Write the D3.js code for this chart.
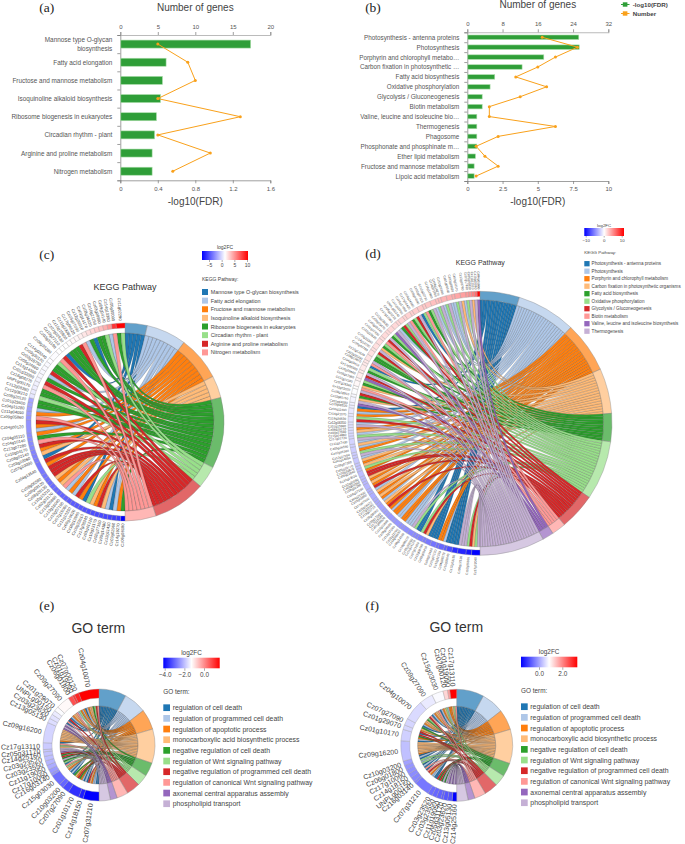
<!DOCTYPE html>
<html><head><meta charset="utf-8">
<script src="https://cdn.jsdelivr.net/npm/d3@7"></script>
<style>html,body{margin:0;padding:0;background:#fff}svg{display:block}text{font-family:"Liberation Sans",Arial,sans-serif}</style>
</head><body><svg id="c" width="685" height="844"></svg>
<script>
// ---------- panel (a) ----------
const aCats = ["Mannose type O-glycan|biosynthesis","Fatty acid elongation","Fructose and mannose metabolism","Isoquinoline alkaloid biosynthesis","Ribosome biogenesis in eukaryotes","Circadian rhythm - plant","Arginine and proline metabolism","Nitrogen metabolism"];
const aFdr = [1.385,0.483,0.444,0.423,0.38,0.36,0.334,0.334];
const aNum = [5,9,10,5,16,5,12,7];
const aFdrTicks = [0,0.4,0.8,1.2,1.6];
const aNumTicks = [0,5,10,15,20];
// ---------- panel (b) ----------
const bCats = ["Photosynthesis - antenna proteins","Photosynthesis","Porphyrin and chlorophyll metabo…","Carbon fixation in photosynthetic …","Fatty acid biosynthesis","Oxidative phosphorylation","Glycolysis / Gluconeogenesis","Biotin metabolism","Valine, leucine and isoleucine bio…","Thermogenesis","Phagosome","Phosphonate and phosphinate m…","Ether lipid metabolism","Fructose and mannose metabolism","Lipoic acid metabolism"];
const bFdr = [7.87,7.9,5.39,3.85,1.91,1.58,1.02,1.02,0.64,0.64,0.64,0.64,0.54,0.45,0.45];
const bNum = [17,25,20,16,11,18,12,5,5,20,7,2,4,7,2];
const bFdrTicks = [0,2.5,5,7.5,10];
const bFdrLabels = ["0","2.5","5","7.5","10"];
const bNumTicks = [0,8,16,24,32];
// ---------- panel (c) ----------
const cTerms = ["Mannose type O-glycan biosynthesis","Fatty acid elongation","Fructose and mannose metabolism","Isoquinoline alkaloid biosynthesis","Ribosome biogenesis in eukaryotes","Circadian rhythm - plant","Arginine and proline metabolism","Nitrogen metabolism"];
const cSeq = [4,2,1,0,1,3,6,2,3,5,0,2,6,1,2,1,7,3,2,3,6,6,6,2,6,0,3,2,6,7,4,2,1,2,6,
              7,2,1,4,4,5,4,4,7,6,4,1,6,4,4,5,7,6,0,4,4,4,6,7,1,4,0,4,4,5,1,7,4,5];
const cWidths = [1,1,1,1,1,1,1,1,1,1,1,1,1,1,1,1,1,1,1,1,1,1,3,1,1,1,1,1,1,1,3,
                 1,1,1,1,1,1,1,1,1,1,1,1,1,1,1,2,1,1,1,1,1,1,1,1,1,1,1,1,1,1,1,2];
const cGenes = ["Cz06g08180","Cz14g19270","Cz03g02960","Cz12g11430","Cz05g14180","Cz02g27150","Cz10g23170","Cz01g41210","Cz17g08340","Cz09g22610",
"Cz16g13980","Cz08g19020","Cz11g10230","Cz07g15060","Cz15g07190","Cz13g16040","Cz12g20860","Cz02g33170","Cz10g15210","Cz06g28130",
"Cz08g09120","Cz08g06580","Cz04g13540","Cz07g10090","Cz03g10060","Cz08g02140","Cz10g04170","Cz13g07280","Cz04g10140","Cz04g05110",
"Cz04g00120","Cz09g05860","Cz11g04050","Cz04g15280","Cz01g25600","Cz08g20120","Cz12g08210","Cz12g08280","UNPLg00170","Cz16g06270",
"Cz01g32090","Cz13g14300","Cz05g24660","Cz02g18750","Cz09g30120","Cz14g03240","Cz06g35280","Cz03g31190","Cz10g27110","Cz07g02430",
"Cz15g19800","Cz11g23060","Cz17g04520","Cz05g07090","Cz12g29310","Cz01g14170","Cz08g34020","Cz16g21150","Cz03g08990","Cz09g04140",
"Cz14g10380","Cz05g00090","Cz11g02290"];
const cFC = [-7.8,-5.6,-5.5,-5.4,-5.3,-5.2,-5.1,-5,-4.9,-4.8,-4.7,-4.6,-4.5,-4.4,-4.3,-4.2,-4.1,-4,-3.9,-3.8,-3.7,-3.6,
-3.5,-3.3,-3.2,-3.1,-3,-2.9,-2.8,-2.7,-2.6,-2.4,-2.2,-2.1,-2,-1.9,
0.4,0.6,0.7,0.8,0.9,1,1,1.1,1.1,1.2,1.2,1.3,1.3,1.3,1.4,1.5,1.6,
1.9,2.2,2.5,2.8,3.2,3.6,4.2,5,8.5,10.4];
const cFCDomain = [-7.8,1.3,10.4];
const cFCTicks = [-5,0,5,10];
// ---------- panel (d) ----------
const dTerms = ["Photosynthesis - antenna proteins","Photosynthesis","Porphyrin and chlorophyll metabolism","Carbon fixation in photosynthetic organisms","Fatty acid biosynthesis","Oxidative phosphorylation","Glycolysis / Gluconeogenesis","Biotin metabolism","Valine, leucine and isoleucine biosynthesis","Thermogenesis"];
const dSeq = [9,5,3,6,5,9,9,9,
0,0,0,0,0,1,2,2,0,0,0,0,3,6,5,0,0,5,9,
1,1,1,2,2,1,1,2,2,1,2,6,2,3,1,2,3,2,3,1,6,2,
3,2,3,6,6,2,5,3,2,3,1,9,5,2,1,3,1,9,5,1,3,2,9,
1,6,5,2,1,2,0,8,9,3,
4,6,9,7,3,4,5,8,6,9,4,5,0,7,9,
4,4,5,6,9,3,4,5,7,6,9,4,5,8,9,1,
4,6,5,9,7,4,5,6,9,0,5,7,4,5,9,1,5,9,1,5,9,1,1,5,9,3,1,5,9,3,9,8];
const dWidths = [3,2,3,2,2,1,2,1,2,2,1,2,1,1,2,2,1,1,2,1,2,1,1,1,2,1,1,1,2,1,1,2,1,1,1,2,1,1,1,2,1,1,2,1,2,1,1,1,1,1,
1,2,1,2,1,1,2,1,2,1,2,1,2,1,2,1,1,2,2,1,2,2,1,2,1,2,2,1,2,1,2,1,2,2,1,2,2,1,1,2,2,1,2,2,1,1,1,1,1];
const dGenes = ["Cz17g12060","Cz02g20910","Cz06g17530","Cz12g03180","Cz10g26040","Cz04g08270","Cz15g11330","Cz01g37120","Cz09g12480","Cz03g26410",
"Cz13g08790","Cz07g21050","Cz11g14120","Cz05g30260","Cz16g09370","Cz08g24510","Cz14g06630","Cz02g11790","Cz12g17240","Cz06g04090",
"Cz10g11860","Cz01g06520","Cz17g15180","Cz03g17340","Cz09g28060","Cz13g20710","Cz07g33090","Cz05g18470","Cz11g07620","Cz15g02850",
"Cz04g21930","Cz16g17150","Cz08g11280","Cz02g04360","Cz12g25090","Cz14g13520","Cz06g22640","Cz10g32870","Cz01g19770","Cz09g07200",
"Cz03g14050","Cz13g12160","Cz07g06380","Cz05g26590","Cz11g17430","Cz17g01720","Cz15g14860","Cz04g17040","Cz08g29210","Cz02g15980",
"Cz12g06350","Cz16g24620","Cz14g21070","Cz06g11490","Cz10g08530","Cz01g44280","Cz03g20760","Cz09g18910","Cz13g03020","Cz07g28340",
"Cz11g21180","Cz05g12560","Cz15g09640","Cz17g06990","Cz04g03410","Cz08g15870","Cz02g30250","Cz12g14620","Cz16g02780","Cz14g16090",
"Cz06g31360","Cz10g19520","Cz01g27830","Cz03g05140","Cz09g25470","Cz13g18630","Cz07g12980","Cz05g21210","UNPLg00240","Cz11g03750",
"Cz15g17090","Cz17g10420","Cz04g24580","Cz08g04690","Cz02g07310","Cz12g22730","Cz16g11860","Cz14g01950","Cz06g14270","Cz10g29380",
"Cz01g09540","Cz03g28620","Cz09g02170","Cz13g10760","Cz07g17490","Cz05g03830","Cz11g12510","Cz15g05260","Cz04g01090"];
const dFC = [-10.8,-9.8,-9.2,-8.8,-7.5,-6.8,-6.4,-6,-5.8,-5.6,-5.4,-5.2,-5,-4.9,-4.8,-4.6,-4.5,-4.4,-4.3,-4.2,-4.1,-4,-3.9,-3.8,-3.7,
-3.6,-3.5,-3.4,-3.3,-3.2,-3.1,-3,-2.9,-2.8,-2.7,-2.6,-2.5,-2.4,-2.3,-2.2,-2.1,-2,-1.9,-1.8,-1.7,-1.6,-1.5,-1.4,-1.3,-1.2,
-1.1,-1,-.9,-.8,-.6,-.5,-.3,-.1,.1,.3,.5,.7,.9,1,1.1,1.2,1.3,1.4,1.5,1.6,1.6,1.7,1.7,1.8,1.8,1.9,1.9,2,2,2.1,
2.2,2.3,2.4,2.5,2.6,2.7,2.9,3,3.2,3.4,3.6,3.8,4,4.3,4.6,5,5.6,6.5,11.2];
const dFCDomain = [-10.8,0.2,11.2];
const dFCTicks = [-10,0,10];
// ---------- panels (e) and (f) ----------
const goTerms = ["regulation of cell death","regulation of programmed cell death","regulation of apoptotic process","monocarboxylic acid biosynthetic process","negative regulation of cell death","regulation of Wnt signaling pathway","negative regulation of programmed cell death","regulation of canonical Wnt signaling pathway","axonemal central apparatus assembly","phospholipid transport"];
const eGenes = ["Cz07g31210","Cz14g18150","Cz01g10170","Cz07g27090","Cz10g03200","Cz15g03030","Cz16g03140","Cz17g10060","Cz11g19050","Cz03g23550","Cz03g23520","Cz14g25160","Cz05g31170","Cz17g13110","Cz09g16200","Cz13g05130","Cz03g23620","UNPLg00150","Cz01g29070","Cz09g27090","Cz06g01800","Cz01g19090","Cz07g00120","Cz04g10070"];
const eFC = [-4.14,-3.8,-3.6,-3.3,-3.0,-2.9,-2.5,-2.4,-2.2,-2.1,-2.0,-1.95,-1.9,-1.85,-1.75,-1.65,-1.6,-1.5,-1.3,-1.2,0.7,1.0,1.2,1.6];
const eLinks = [[0,0,1,1,2,3,6],[0,1],[0,1,2,4,6],[2,3,4],[0,1],[0,1,2,3,5],[7],[0,5],[4,9],[4,6],[4,6],[8,9],[9],[3,5,7],[0,2,3,3,3,3,3,3,3],[8,9],[8,9],[0,7],[0,6],[0,1,2,3,3,7],[1,5],[2],[1,2],[0,1,2,3,3,4,5,6,7]];
const eFCDomain = [-4.14,-1.27,1.6];
const eFCTicks = [-4,-2,0];
const fGenes = ["Cz14g25160","Cz13g05130","Cz03g23620","Cz05g31170","Cz11g19050","Cz03g23550","Cz03g23520","Cz07g31210","Cz16g03140","UNPLg00150","Cz14g18150","Cz17g10060","Cz06g01800","Cz10g03200","Cz09g16200","Cz01g10170","Cz01g29070","Cz07g27090","Cz04g10070","Cz09g27090","Cz15g03030","Cz07g00120","Cz01g19090","Cz17g13110"];
const fFC = [-1.54,-0.75,-0.7,-0.65,-0.6,-0.55,-0.5,-0.4,-0.3,-0.25,-0.2,-0.15,-0.1,0,0.3,0.45,0.5,0.5,0.55,0.7,0.85,1.3,1.8,3.3];
const fLinks = [[8,9],[8,9],[8,9],[9],[4,9],[4,6],[4,6],[0,0,1,1,2,3,6],[7],[0,7],[0,1],[0,5],[1,5],[0,1],[0,2,3,3,3,3,3,3,3],[0,1,2,4,6],[0,6],[2,3,4],[0,1,2,3,3,4,5,6,7],[0,1,2,3,3,7],[0,1,2,3,5],[1,2],[2],[3,5,7]];
const fFCDomain = [-1.54,0.9,3.3];
const fFCTicks = [0,2];
const palette = ["#1f77b4","#aec7e8","#ff7f0e","#ffbb78","#2ca02c","#98df8a","#d62728","#ff9896","#9467bd","#c5b0d5"];

const svg = d3.select("#c");
const defs = svg.append("defs");
const TXT = "#444";

function label(x,y,s,size,opt={}){
  return svg.append("text").attr("x",x).attr("y",y).attr("dominant-baseline","central")
    .attr("text-anchor",opt.anchor||"middle").attr("font-size",size)
    .attr("fill",opt.fill||TXT).attr("font-weight",opt.weight||"normal")
    .style("font-family",opt.family||null).text(s);
}
[["(a)",46.7,7],["(b)",373,7],["(c)",46.7,254],["(d)",373,253],["(e)",46.7,605],["(f)",372.3,605]].forEach(d=>
  label(d[1],d[2],d[0],13.5,{family:'"Liberation Serif",serif',fill:"#222"}));

function barPanel(o){
  const g = svg.append("g");
  const x = d3.scaleLinear().domain(o.fdrDom).range([o.x0,o.x1]);
  const xN = d3.scaleLinear().domain(o.numDom).range([o.x0,o.x1]);
  const n = o.cats.length;
  const y = d3.scaleBand().domain(d3.range(n)).range([o.top,o.bottom]);
  const idx = d3.scaleLinear().domain([0,n]).range([o.top,o.bottom]);
  const ax = g.append("g").attr("transform",`translate(0,${o.bottom})`).call(d3.axisBottom(x).tickValues(o.fdrTicks).tickSize(3).tickPadding(3).tickFormat((d,i)=>o.fdrLabels?o.fdrLabels[i]:String(d)));
  const at = g.append("g").attr("transform",`translate(0,${o.top})`).call(d3.axisTop(xN).tickValues(o.numTicks).tickSize(3).tickPadding(3));
  const al = g.append("g").attr("transform",`translate(${o.x0},0)`).call(d3.axisLeft(idx).tickValues(d3.range(n+1)).tickSize(3).tickFormat(""));
  [ax,at,al].forEach(a=>{a.selectAll("text").attr("font-size",6).attr("fill","#555").style("font-family",null);a.selectAll("path,line").attr("stroke","#777").attr("stroke-width",0.7);});
  at.selectAll("path").attr("stroke","#bbb").attr("stroke-width",1.1);
  g.selectAll("rect.b").data(o.fdr).join("rect").attr("class","b")
    .attr("x",o.x0+0.5).attr("y",(d,i)=>y(i)+y.bandwidth()/2-o.barH/2)
    .attr("width",d=>x(d)-o.x0).attr("height",o.barH)
    .attr("fill","#2f9e38").attr("stroke","#a9dca8").attr("stroke-width",0.6);
  g.append("path").datum(o.num).attr("fill","none").attr("stroke","#f9a11b").attr("stroke-width",1)
    .attr("d",d3.line().x(d=>xN(d)).y((d,i)=>y(i)+y.bandwidth()/2));
  g.selectAll("circle").data(o.num).join("circle").attr("cx",d=>xN(d)).attr("cy",(d,i)=>y(i)+y.bandwidth()/2).attr("r",1.5).attr("fill","#f9a11b");
  o.cats.forEach((c,i)=>{
    const parts=c.split("|"), cy=y(i)+y.bandwidth()/2;
    parts.forEach((p,k)=>label(o.x0-8,cy+(k-(parts.length-1)/2)*9,p,o.catSize,{anchor:"end",fill:"#555"}));
  });
  label((o.x0+o.x1)/2,o.titleY,"Number of genes",10);
  label((o.x0+o.x1)/2,201,"-log10(FDR)",10);
}
barPanel({cats:aCats,fdr:aFdr,num:aNum,fdrDom:[0,1.6],numDom:[0,20],fdrTicks:aFdrTicks,numTicks:aNumTicks,x0:120.3,x1:270.3,top:35,bottom:180.3,barH:8,catSize:6.4,titleY:7});
barPanel({cats:bCats,fdr:bFdr,num:bNum,fdrDom:[0,10],numDom:[0,32],fdrTicks:bFdrTicks,fdrLabels:bFdrLabels,numTicks:bNumTicks,x0:467.3,x1:608.3,top:32.3,bottom:181,barH:4.5,catSize:6.3,titleY:4});
[["-log10(FDR)","#2f9e38",4.5],["Number","#f9a11b",13.5]].forEach(d=>{
  svg.append("line").attr("x1",621).attr("x2",629.5).attr("y1",d[2]).attr("y2",d[2]).attr("stroke",d[1]).attr("stroke-width",1);
  svg.append("rect").attr("x",622.8).attr("y",d[2]-2.2).attr("width",4.6).attr("height",4.4).attr("fill",d[1]);
  label(632.7,d[2],d[0],6.2,{anchor:"start",weight:"bold"});
});

let gid=0;
function chord(o){
  const col = d3.scaleLinear().domain(o.fcDom).range(["#0000ff","#ffffff","#ff0000"]);
  const total = d3.sum(o.links,l=>l.length);
  const unit = Math.PI/total;
  const g = svg.append("g").attr("transform",`translate(${o.cx},${o.cy})`);
  // gene side: runs clockwise from six o'clock to twelve o'clock
  let pos = 0; const units=[]; const cells=[];
  o.links.forEach((terms,gi)=>{
    const a0 = Math.PI+pos*unit;
    terms.forEach(t=>{units.push({t,start:Math.PI+pos*unit,end:Math.PI+(pos+1)*unit,gi});pos++;});
    cells.push({gi,start:a0,end:Math.PI+pos*unit});
  });
  // term side: runs clockwise from twelve o'clock to six o'clock, latest gene first
  let tp = 0; const termArcs=[];
  o.terms.forEach((name,t)=>{
    const mine = units.filter(u=>u.t===t).sort((a,b)=>b.start-a.start);
    const a0=tp*unit;
    mine.forEach(u=>{u.ts=tp*unit;u.te=(tp+1)*unit;tp++;});
    termArcs.push({t,start:a0,end:tp*unit});
  });
  const ribbon = d3.ribbon().radius(o.rRib);
  g.selectAll("path.r").data(units.slice().sort((a,b)=>a.t-b.t)).join("path").attr("class","r")
    .attr("d",u=>ribbon({source:{startAngle:u.ts,endAngle:u.te},target:{startAngle:u.start,endAngle:u.end}}))
    .attr("fill",u=>palette[u.t]).attr("stroke","#333").attr("stroke-width",o.sw).attr("stroke-opacity",0.75);
  const arc = d3.arc();
  g.selectAll("path.t").data(termArcs).join("path").attr("class","t")
    .attr("d",d=>arc({innerRadius:o.rRib,outerRadius:o.rOut,startAngle:d.start,endAngle:d.end}))
    .attr("fill",d=>palette[d.t]).attr("fill-opacity",0.7).attr("stroke","#888").attr("stroke-width",0.4);
  g.selectAll("path.g").data(cells).join("path").attr("class","g")
    .attr("d",d=>arc({innerRadius:o.rGene,outerRadius:o.rOut,startAngle:d.start,endAngle:d.end}))
    .attr("fill",d=>col(o.fc[d.gi])).attr("stroke","#999").attr("stroke-width",0.35);
  g.selectAll("text").data(cells).join("text")
    .attr("text-anchor","end").attr("dominant-baseline","central")
    .attr("font-size",o.labelSize).attr("fill","#444")
    .attr("transform",d=>{const a=(d.start+d.end)/2, r=o.rOut+o.labelGap;
      return `translate(${r*Math.sin(a)},${-r*Math.cos(a)}) rotate(${a*180/Math.PI-270})`;})
    .text(d=>o.genes[d.gi]);
  // title
  label(o.cx+o.titleDx,o.titleY,o.title,o.titleSize,{fill:"#333"});
  // colour bar
  const id="grad"+(gid++), L=o.legend;
  const gr=defs.append("linearGradient").attr("id",id);
  [["0%","#0000ff"],["50%","#ffffff"],["100%","#ff0000"]].forEach(s=>gr.append("stop").attr("offset",s[0]).attr("stop-color",s[1]));
  svg.append("rect").attr("x",L.x).attr("y",L.barY).attr("width",L.barW).attr("height",L.barH).attr("fill",`url(#${id})`);
  const cs=d3.scaleLinear().domain([L.tickA[0],L.tickA[1]]).range([L.tickX[0],L.tickX[1]]);
  const ag=svg.append("g").attr("transform",`translate(0,${L.barY+L.barH})`).call(d3.axisBottom(cs).tickValues(o.ticks).tickSize(L.tickLen).tickPadding(1.5));
  ag.select("path").remove();
  ag.selectAll("line").attr("stroke","#333").attr("stroke-width",0.4);
  ag.selectAll("text").attr("font-size",L.small).attr("fill","#444").style("font-family",null);
  label(L.x+L.barW/2,L.barY-L.titleGap,"log2FC",L.small);
  label(L.x,L.headY,o.head,L.small,{anchor:"start"});
  o.terms.forEach((t,i)=>{
    const y=L.rowY+i*L.rowStep;
    svg.append("rect").attr("x",L.x).attr("y",y-L.sw/2).attr("width",L.sw).attr("height",L.sw).attr("fill",palette[i]);
    label(L.x+L.sw+L.textGap,y,t,L.text,{anchor:"start"});
  });
}
function group(seq,widths){let p=0;return widths.map(w=>{const r=seq.slice(p,p+w);p+=w;return r;});}

chord({cx:125,cy:422,rRib:89,rGene:94,rOut:99,labelSize:4.1,labelGap:2.5,sw:0.3,
  terms:cTerms,genes:cGenes,fc:cFC,fcDom:cFCDomain,links:group(cSeq,cWidths),ticks:cFCTicks,
  title:"KEGG Pathway",titleDx:0,titleY:287,titleSize:9,head:"KEGG Pathway:",
  legend:{x:202,barY:251,barW:46,barH:9,tickA:[-5,10],tickX:[209,247],tickLen:2,small:5,titleGap:4,headY:279,rowY:292,rowStep:8.63,sw:6,textGap:2.7,text:5.4}});
chord({cx:480,cy:423.3,rRib:123.5,rGene:126.7,rOut:132,labelSize:3.2,labelGap:2,sw:0.25,
  terms:dTerms,genes:dGenes,fc:dFC,fcDom:dFCDomain,links:group(dSeq,dWidths),ticks:dFCTicks,
  title:"KEGG Pathway",titleDx:0.3,titleY:262.7,titleSize:7,head:"KEGG Pathway:",
  legend:{x:584.3,barY:228,barW:39.7,barH:8,tickA:[-10,10],tickX:[585.7,621.7],tickLen:1.5,small:4.4,titleGap:3,headY:252.3,rowY:263.7,rowStep:7.5,sw:5.3,textGap:2,text:4.6}});
chord({cx:99,cy:745,rRib:39,rGene:47,rOut:56,labelSize:7,labelGap:3,sw:0.35,
  terms:goTerms,genes:eGenes,fc:eFC,fcDom:eFCDomain,links:eLinks,ticks:eFCTicks,
  title:"GO term",titleDx:-0.7,titleY:627.7,titleSize:14,head:"GO term:",
  legend:{x:163.3,barY:657.7,barW:56.4,barH:10.6,tickA:[-4,0],tickX:[164.7,204],tickLen:2.5,small:6.4,titleGap:5.4,headY:691.7,rowY:707.7,rowStep:10.67,sw:6.7,textGap:2.7,text:6.9}});
chord({cx:456.7,cy:745.3,rRib:39,rGene:47,rOut:56,labelSize:7,labelGap:3,sw:0.35,
  terms:goTerms,genes:fGenes,fc:fFC,fcDom:fFCDomain,links:fLinks,ticks:fFCTicks,
  title:"GO term",titleDx:-0.4,titleY:626.7,titleSize:14,head:"GO term:",
  legend:{x:521,barY:656.7,barW:56.3,barH:10.6,tickA:[0,2],tickX:[539,562.3],tickLen:2.5,small:6.4,titleGap:5.4,headY:690.7,rowY:706.7,rowStep:10.67,sw:6.7,textGap:2.6,text:6.9}});
</script></body></html>
